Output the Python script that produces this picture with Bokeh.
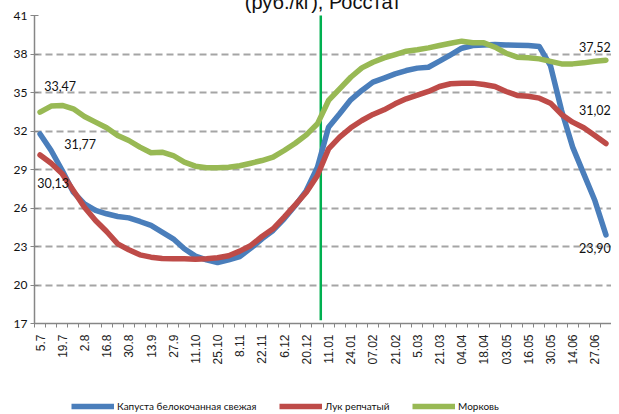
import math
from bokeh.plotting import figure
from bokeh.layouts import column
from bokeh.models import FixedTicker, Legend, LegendItem, Range1d, ColumnDataSource
from bokeh.core.properties import value
from bokeh.embed import file_html
from bokeh.resources import INLINE

# ---- data ----
weeks = ["5.7", "12.7", "19.7", "26.7", "2.8", "9.8", "16.8", "23.8", "30.8", "6.9",
         "13.9", "20.9", "27.9", "4.10", "11.10", "18.10", "25.10", "1.11", "8.11", "15.11",
         "22.11", "29.11", "6.12", "13.12", "20.12", "27.12", "11.01", "17.01", "24.01", "31.01",
         "07.02", "14.02", "21.02", "28.02", "5.03", "13.03", "21.03", "28.03", "04.04", "11.04",
         "18.04", "25.04", "03.05", "10.05", "16.05", "23.05", "30.05", "06.06", "14.06", "20.06",
         "27.06", "04.07"]
tick_labels = weeks[::2]

cabbage = [31.77, 30.48, 28.92, 27.23, 26.32, 25.81, 25.55, 25.34, 25.23, 24.95,
           24.64, 24.12, 23.60, 22.82, 22.25, 21.96, 21.75, 21.96, 22.22, 22.87,
           23.60, 24.25, 25.16, 26.19, 27.36, 29.18, 32.30, 33.34, 34.43, 35.16,
           35.81, 36.12, 36.45, 36.71, 36.90, 36.97, 37.44, 37.94, 38.45, 38.66,
           38.71, 38.74, 38.71, 38.69, 38.66, 38.58, 37.10, 33.60, 30.74, 28.66,
           26.58, 23.90]
onion = [30.13, 29.49, 28.66, 27.36, 26.06, 25.03, 24.17, 23.21, 22.74, 22.35,
         22.17, 22.06, 22.04, 22.04, 22.01, 22.04, 22.12, 22.28, 22.64, 23.08,
         23.78, 24.38, 25.29, 26.25, 27.23, 28.53, 30.61, 31.52, 32.25, 32.82,
         33.29, 33.65, 34.12, 34.51, 34.80, 35.08, 35.47, 35.68, 35.73, 35.73,
         35.62, 35.47, 35.08, 34.77, 34.71, 34.56, 34.17, 33.29, 32.69, 32.25,
         31.65, 31.02]
carrot = [33.47, 33.94, 33.99, 33.73, 33.13, 32.69, 32.25, 31.65, 31.26, 30.74,
          30.30, 30.35, 30.09, 29.57, 29.26, 29.13, 29.13, 29.17, 29.29, 29.49,
          29.70, 29.96, 30.48, 31.05, 31.70, 32.56, 34.38, 35.29, 36.19, 36.92,
          37.36, 37.70, 37.96, 38.22, 38.33, 38.48, 38.66, 38.84, 39.00, 38.87,
          38.87, 38.53, 38.06, 37.75, 37.70, 37.62, 37.42, 37.23, 37.23, 37.31,
          37.44, 37.52]
series_names = ["Капуста белокочанная свежая", "Лук репчатый", "Морковь"]
title_text = "(руб./кг), Росстат"
marker_week = 25.3  # new-year marker between 27.12 and 11.01

y_ticks = [17, 20, 23, 26, 29, 32, 35, 38, 41]

idx = list(range(len(weeks)))

BLUE = "#4A7EBB"
RED = "#BE4B48"
GREEN = "#98B954"
COLORS = [BLUE, RED, GREEN]
SERIES = [cabbage, onion, carrot]

p = figure(width=611, height=390, x_range=Range1d(-0.5, len(weeks) - 0.5),
           y_range=Range1d(17, 41), output_backend="svg", toolbar_location=None,
           min_border_left=34, min_border_right=0, min_border_top=32, min_border_bottom=50,
           title=title_text)
p.outline_line_color = None
p.background_fill_color = "white"
p.border_fill_color = "white"

p.title.text_font = "Liberation Sans"
p.title.text_font_size = "20px"
p.title.text_font_style = "normal"
p.title.text_color = "#111111"
p.title.align = "center"
p.title.offset = -6
p.title.standoff = 5

# grid
p.xgrid.grid_line_color = None
p.ygrid.grid_line_color = "#A5A5A5"
p.ygrid.grid_line_dash = "7 4"
p.ygrid.grid_line_width = 2
p.ygrid.ticker = FixedTicker(ticks=y_ticks)

# x axis
p.xaxis.ticker = FixedTicker(ticks=idx[::2], minor_ticks=[i - 0.5 for i in range(len(weeks) + 1)])
p.xaxis.major_label_overrides = {i: lab for i, lab in zip(idx[::2], tick_labels)}
p.xaxis.major_label_orientation = math.pi / 2
p.xaxis.major_tick_in = 0
p.xaxis.major_tick_out = 0
p.xaxis.minor_tick_in = 0
p.xaxis.minor_tick_out = 4
p.xaxis.minor_tick_line_color = "#868686"
p.xaxis.axis_line_color = "#868686"
p.xaxis.axis_line_width = 1.5
p.xaxis.major_label_standoff = 7
p.xaxis.major_label_text_font = "Liberation Sans"
p.xaxis.major_label_text_font_size = "12px"
p.xaxis.major_label_text_color = "#222222"

# y axis
p.yaxis.ticker = FixedTicker(ticks=y_ticks)
p.yaxis.major_tick_in = 4
p.yaxis.major_tick_out = 4
p.yaxis.minor_tick_out = 0
p.yaxis.minor_tick_in = 0
p.yaxis.major_tick_line_color = "#868686"
p.yaxis.axis_line_color = "#868686"
p.yaxis.axis_line_width = 1.5
p.yaxis.major_label_standoff = 3
p.yaxis.major_label_text_font = "Lato"
p.yaxis.major_label_text_font_size = "12px"
p.yaxis.major_label_text_color = "#111111"

# marker line
p.segment(x0=[marker_week], y0=[41.15], x1=[marker_week], y1=[17.25],
          line_color="#00B050", line_width=2.5)

for vals, col in zip(SERIES, COLORS):
    p.line(idx, vals, line_color=col, line_width=5.5, line_join="round", line_cap="round")

# data labels for first and last points
first, last = 0, len(weeks) - 1
lab_vals = [carrot[first], cabbage[first], onion[first], carrot[last], onion[last], cabbage[last]]
lab_src = ColumnDataSource(dict(
    x=[first, first, first, last, last, last],
    y=lab_vals,
    t=[f"{v:.2f}".replace(".", ",") for v in lab_vals],
    dx=[20, 40, 13, -11, -11, -11],
    dy=[-26, 10, 28, -13, -34, 13],
))
p.text(x="x", y="y", text="t", x_offset="dx", y_offset="dy", source=lab_src,
       text_font=value("Lato"), text_font_size="12.5px", text_color="#111111",
       text_align="center", text_baseline="middle")

# legend strip (separate small figure under the chart); its line renderers carry the
# same series but fall entirely outside this strip's ranges, so only the legend shows
pl = figure(width=611, height=41, x_range=Range1d(0, 1), y_range=Range1d(0, 1),
            output_backend="svg", toolbar_location=None, x_axis_location=None,
            y_axis_location=None, min_border=0)
pl.outline_line_color = None
pl.xgrid.visible = False
pl.ygrid.visible = False
for name, vals, col, xloc in zip(series_names, SERIES, COLORS, [37, 245, 378]):
    r = pl.line(x=idx, y=vals, line_color=col, line_width=5.5)
    lg = Legend(items=[LegendItem(label=name, renderers=[r])], location=(xloc, 1),
                orientation="horizontal", glyph_width=43, glyph_height=14, label_standoff=3,
                padding=0, margin=0, border_line_color=None, background_fill_alpha=0,
                label_text_font="Lato", label_text_font_size="10px", label_text_color="#111111",
                label_height=14)
    pl.add_layout(lg, "center")

layout = column(p, pl, spacing=0)
layout.margin = (-17, 0, -10, 0)

open("out.html", "w").write(file_html(layout, INLINE))
